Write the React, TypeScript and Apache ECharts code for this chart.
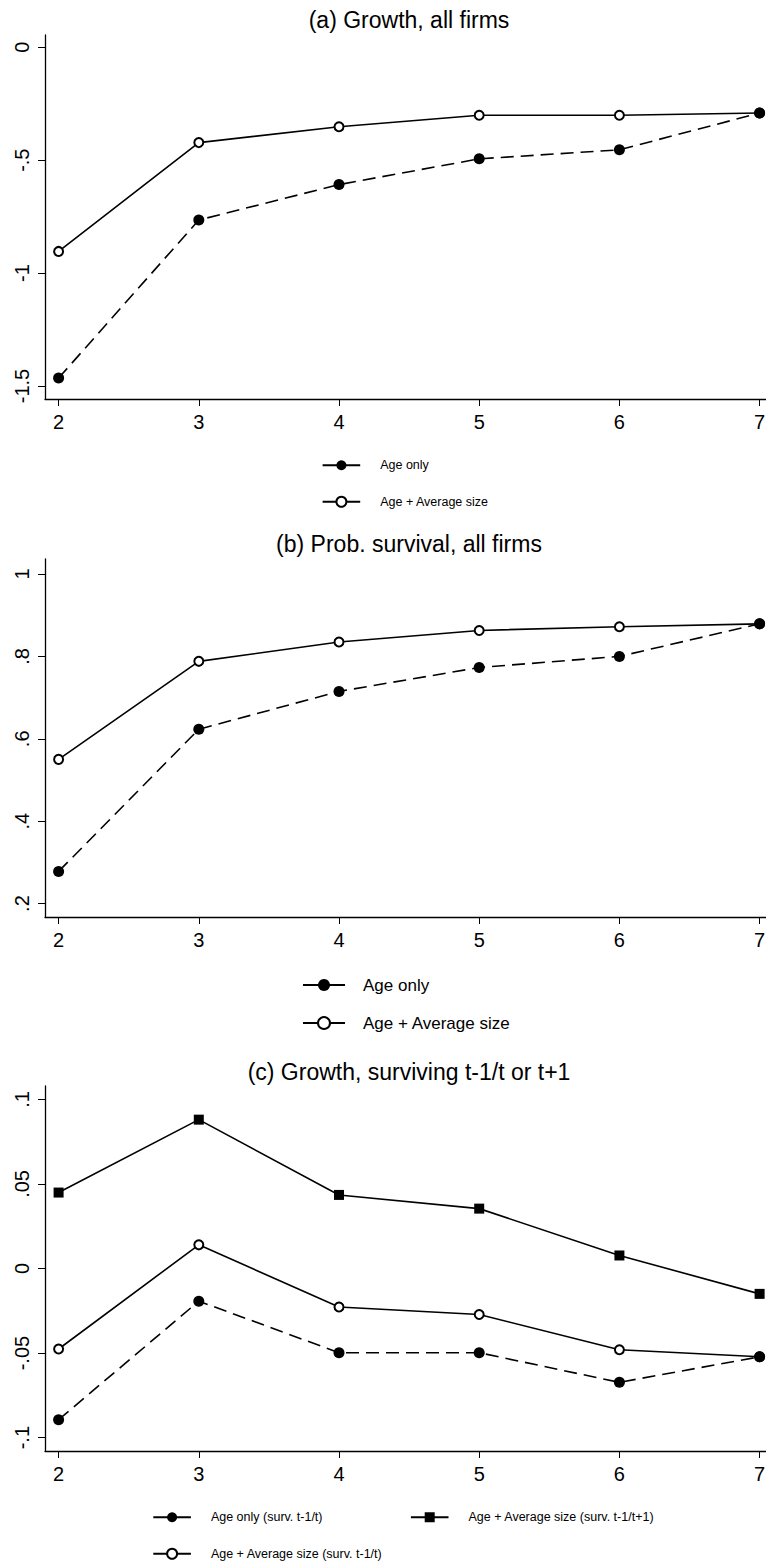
import React, { useEffect, useRef } from "react";
import * as echarts from "echarts";

const FONT = "'Liberation Sans', Arial, sans-serif";

const ages = [2, 3, 4, 5, 6, 7];

// (a) Growth, all firms
const growthAgeOnly = [-1.465, -0.765, -0.608, -0.494, -0.454, -0.291];
const growthAgeSize = [-0.904, -0.422, -0.352, -0.301, -0.301, -0.291];

// (b) Prob. survival, all firms
const survAgeOnly = [0.278, 0.623, 0.715, 0.773, 0.8, 0.879];
const survAgeSize = [0.55, 0.788, 0.835, 0.863, 0.872, 0.879];

// (c) Growth, surviving t-1/t or t+1
const survGrowthAgeOnly = [-0.0894, -0.0193, -0.0498, -0.0498, -0.0673, -0.0522];
const survGrowthAgeSize = [-0.0476, 0.014, -0.0228, -0.0272, -0.048, -0.0522];
const survGrowthAgeSizeT1 = [0.0449, 0.088, 0.0435, 0.0354, 0.0077, -0.015];

const xTicks = [2, 3, 4, 5, 6, 7];
const yTicksA = [0, -0.5, -1, -1.5];
const yTicksB = [1, 0.8, 0.6, 0.4, 0.2];
const yTicksC = [0.1, 0.05, 0, -0.05, -0.1];

const titles = [
  "(a) Growth, all firms",
  "(b) Prob. survival, all firms",
  "(c) Growth, surviving t-1/t or t+1",
];

const NAME_ONLY = "Age only";
const NAME_SIZE = "Age + Average size";
const NAME_C_ONLY = "Age only (surv. t-1/t)";
const NAME_C_SIZE = "Age + Average size (surv. t-1/t)";
const NAME_C_SIZE_T1 = "Age + Average size (surv. t-1/t+1)";

const fmt = (v: number) => String(v).replace(/^(-?)0\./, "$1.");

function pairs(vals: number[]) {
  return ages.map((a, i) => [a, vals[i]]);
}

export default function App() {
  const ref = useRef<HTMLDivElement>(null);

  useEffect(() => {
    if (!ref.current) return;
    const chart = echarts.init(ref.current, null, { renderer: "svg" });

    const grids = [
      { left: 45, top: 35, width: 721, height: 364 },
      { left: 45, top: 559, width: 721, height: 358 },
      { left: 45, top: 1086, width: 721, height: 365 },
    ];

    const xAxis = (gi: number) => ({
      type: "value",
      gridIndex: gi,
      min: 1.903,
      max: 7.0456,
      axisLine: { show: true, onZero: false, lineStyle: { color: "#000", width: 1.3 } },
      axisTick: { show: true, customValues: xTicks, length: 7, lineStyle: { color: "#000", width: 1 } },
      axisLabel: {
        customValues: xTicks,
        margin: 13,
        fontSize: 20,
        color: "#000",
        fontFamily: FONT,
      },
      splitLine: { show: false },
    });

    const yAxis = (gi: number, min: number, max: number, ticks: number[]) => ({
      type: "value",
      gridIndex: gi,
      min,
      max,
      axisLine: { show: true, onZero: false, lineStyle: { color: "#000", width: 1.3 } },
      axisTick: { show: true, customValues: ticks, length: 7, lineStyle: { color: "#000", width: 1 } },
      axisLabel: {
        customValues: ticks,
        rotate: 90,
        margin: 13,
        fontSize: 20,
        color: "#000",
        fontFamily: FONT,
        formatter: fmt,
      },
      splitLine: { show: false },
    });

    const solidLine = (name: string, gi: number, vals: number[], symbol: string, size: number) => ({
      type: "line",
      name,
      xAxisIndex: gi,
      yAxisIndex: gi,
      data: pairs(vals),
      symbol,
      symbolSize: size,
      showAllSymbol: true,
      clip: false,
      lineStyle: { color: "#000", width: 1.6, type: "solid" },
      itemStyle: { color: "#000", borderColor: "#000", borderWidth: symbol === "emptyCircle" ? 1.3 : 0 },
      emphasis: { disabled: true },
    });

    const dashedLine = (name: string, gi: number, vals: number[]) => ({
      type: "line",
      name,
      xAxisIndex: gi,
      yAxisIndex: gi,
      data: pairs(vals),
      symbol: "circle",
      symbolSize: 11,
      showAllSymbol: true,
      clip: false,
      lineStyle: { color: "#000", width: 1.6, type: [13, 7] },
      itemStyle: { color: "#000" },
      emphasis: { disabled: true },
    });

    const legendText = (size: number, pad: number) => ({
      fontSize: size,
      lineHeight: size,
      color: "#000",
      fontFamily: FONT,
      padding: [0, 0, 0, pad],
    });

    const option: any = {
      animation: false,
      backgroundColor: "#fff",
      grid: grids.map((g) => ({ ...g, containLabel: false, outerBoundsMode: "none" })),
      xAxis: [xAxis(0), xAxis(1), xAxis(2)],
      yAxis: [
        yAxis(0, -1.5576, 0.0545, yTicksA),
        yAxis(1, 0.1674, 1.0364, yTicksB),
        yAxis(2, -0.1079, 0.1079, yTicksC),
      ],
      legend: [
        {
          orient: "vertical",
          left: 321.7,
          top: 465 - 6.25,
          padding: 0,
          itemWidth: 37.6,
          itemHeight: 12.5,
          itemGap: 23.5,
          selectedMode: false,
          data: [NAME_ONLY, NAME_SIZE],
          textStyle: legendText(12.5, 15),
          lineStyle: { type: "solid", width: 1.8 },
        },
        {
          orient: "vertical",
          left: 302,
          top: 984 - 7.5,
          padding: 0,
          itemWidth: 42,
          itemHeight: 15,
          itemGap: 21,
          selectedMode: false,
          data: [NAME_ONLY, NAME_SIZE],
          textStyle: legendText(17, 13),
          lineStyle: { type: "solid", width: 2 },
        },
        {
          orient: "vertical",
          left: 152.4,
          top: 1517 - 6.25,
          padding: 0,
          itemWidth: 37.6,
          itemHeight: 12.5,
          itemGap: 23.5,
          selectedMode: false,
          data: [NAME_C_ONLY, NAME_C_SIZE],
          textStyle: legendText(12.5, 15),
          lineStyle: { type: "solid", width: 1.8 },
        },
        {
          orient: "vertical",
          left: 410,
          top: 1517 - 6.25,
          padding: 0,
          itemWidth: 37.6,
          itemHeight: 12.5,
          itemGap: 23.5,
          selectedMode: false,
          data: [NAME_C_SIZE_T1],
          textStyle: legendText(12.5, 15),
          lineStyle: { type: "solid", width: 1.8 },
        },
      ],
      graphic: [
        { x: 409, y: 20 },
        { x: 409, y: 544 },
        { x: 409, y: 1072 },
      ].map((p, i) => ({
        type: "text",
        x: p.x,
        y: p.y,
        silent: true,
        style: {
          text: titles[i],
          fill: "#000",
          fontSize: 23,
          fontFamily: FONT,
          align: "center",
          verticalAlign: "middle",
          textAlign: "center",
          textVerticalAlign: "middle",
        },
      })),
      series: [
        solidLine(NAME_SIZE, 0, growthAgeSize, "emptyCircle", 9),
        dashedLine(NAME_ONLY, 0, growthAgeOnly),
        solidLine(NAME_SIZE, 1, survAgeSize, "emptyCircle", 9),
        dashedLine(NAME_ONLY, 1, survAgeOnly),
        solidLine(NAME_C_SIZE_T1, 2, survGrowthAgeSizeT1, "rect", 10),
        solidLine(NAME_C_SIZE, 2, survGrowthAgeSize, "emptyCircle", 9),
        dashedLine(NAME_C_ONLY, 2, survGrowthAgeOnly),
      ],
    };

    chart.setOption(option);
    return () => chart.dispose();
  }, []);

  return (
    <div
      ref={ref}
      style={{ position: "absolute", left: 0, top: 0, width: 766, height: 1561, background: "#fff" }}
    />
  );
}
